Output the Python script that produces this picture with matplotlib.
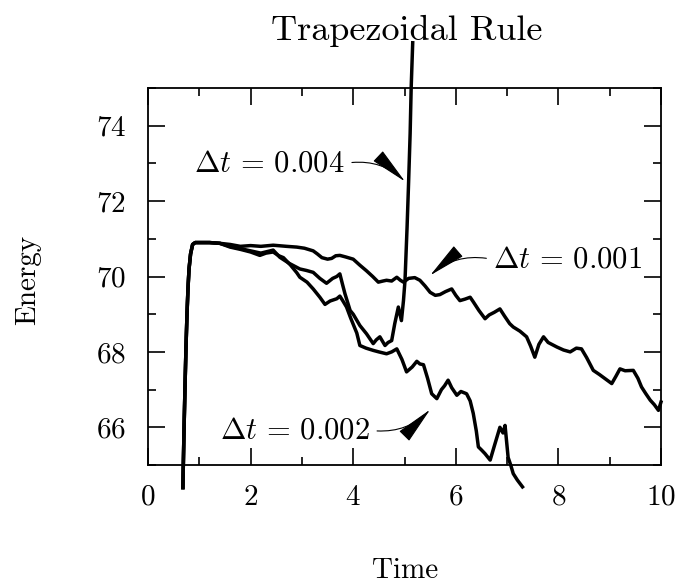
import numpy as np
import matplotlib.pyplot as plt

plt.rcParams['font.family'] = ['cmr10', 'DejaVu Serif']
plt.rcParams['mathtext.fontset'] = 'cm'
plt.rcParams['axes.formatter.use_mathtext'] = True

# common start-up transient
t_start = [0.68, 0.70, 0.72, 0.74, 0.76, 0.78, 0.80, 0.83, 0.87, 0.92, 1.0, 1.2, 1.4]
e_start = [64.4, 65.8, 67.0, 68.1, 69.0, 69.7, 70.2, 70.6, 70.85, 70.9, 70.9, 70.9, 70.88]

# dt = 0.001
t_001 = [1.6, 1.8, 2.0, 2.2, 2.44, 2.7, 2.9, 3.05, 3.22, 3.3, 3.39, 3.5, 3.58, 3.66,
         3.74, 3.85, 4.0, 4.13, 4.26, 4.38, 4.49, 4.58, 4.65, 4.75, 4.85, 4.92, 4.98,
         5.08, 5.2, 5.3, 5.4, 5.5, 5.6, 5.69, 5.8, 5.92, 6.0, 6.08, 6.18, 6.28, 6.34,
         6.45, 6.57, 6.65, 6.75, 6.86, 6.95, 7.05, 7.12, 7.25, 7.38, 7.46, 7.54, 7.62,
         7.71, 7.8, 7.97, 8.1, 8.23, 8.35, 8.45, 8.55, 8.68, 8.8, 8.9, 9.04, 9.12, 9.2,
         9.3, 9.46, 9.55, 9.62, 9.7, 9.79, 9.87, 9.95, 10.0]
e_001 = [70.85, 70.8, 70.82, 70.8, 70.83, 70.8, 70.78, 70.75, 70.68, 70.6, 70.5, 70.46,
         70.48, 70.55, 70.56, 70.52, 70.46, 70.3, 70.15, 70.0, 69.85, 69.88, 69.9, 69.88,
         69.98, 69.9, 69.85, 69.95, 69.97, 69.9, 69.75, 69.58, 69.5, 69.52, 69.6, 69.67,
         69.5, 69.36, 69.4, 69.45, 69.33, 69.1, 68.88, 68.98, 69.05, 69.14, 68.95, 68.75,
         68.66, 68.55, 68.4, 68.15, 67.86, 68.2, 68.4, 68.25, 68.13, 68.05, 68.0, 68.1,
         68.08, 67.85, 67.51, 67.4, 67.3, 67.16, 67.35, 67.55, 67.5, 67.51, 67.3, 67.07,
         66.9, 66.72, 66.6, 66.45, 66.67]

# dt = 0.002
t_002 = [1.6, 1.8, 2.0, 2.18, 2.3, 2.44, 2.55, 2.64, 2.78, 2.9, 2.96, 3.1, 3.22, 3.35,
         3.45, 3.55, 3.68, 3.74, 3.8, 3.87, 3.95, 4.07, 4.13, 4.25, 4.39, 4.5, 4.65, 4.75,
         4.85, 4.95, 5.04, 5.15, 5.24, 5.3, 5.37, 5.45, 5.53, 5.63, 5.72, 5.78, 5.85, 5.92,
         6.02, 6.1, 6.21, 6.28, 6.34, 6.4, 6.44, 6.5, 6.57, 6.67, 6.75, 6.86, 6.92, 6.96,
         7.02, 7.07, 7.12, 7.2, 7.3]
e_002 = [70.78, 70.72, 70.65, 70.56, 70.62, 70.65, 70.55, 70.5, 70.3, 70.1, 69.98, 69.85,
         69.67, 69.45, 69.26, 69.35, 69.41, 69.48, 69.35, 69.19, 68.9, 68.5, 68.17, 68.1,
         68.04, 68.0, 67.95, 68.0, 68.08, 67.8, 67.47, 67.6, 67.75, 67.68, 67.66, 67.3,
         66.89, 66.76, 67.0, 67.1, 67.25, 67.05, 66.85, 66.95, 66.89, 66.7, 66.37, 65.9,
         65.48, 65.4, 65.3, 65.13, 65.5, 66.0, 65.85, 66.05, 65.2, 65.0, 64.77, 64.6, 64.42]

# dt = 0.004
t_004 = [1.6, 1.8, 2.0, 2.2, 2.44, 2.57, 2.75, 2.96, 3.09, 3.22, 3.35, 3.48, 3.6, 3.68,
         3.74, 3.79, 3.84, 3.94, 4.0, 4.13, 4.26, 4.39, 4.45, 4.52, 4.62, 4.68, 4.75, 4.81,
         4.88, 4.94, 4.98, 5.01, 5.05, 5.08, 5.11, 5.13, 5.16]
e_004 = [70.8, 70.74, 70.68, 70.62, 70.7, 70.51, 70.35, 70.2, 70.16, 70.11, 69.95, 69.82,
         69.95, 70.0, 70.07, 69.8, 69.54, 69.1, 69.0, 68.7, 68.48, 68.22, 68.32, 68.4,
         68.17, 68.25, 68.3, 68.75, 69.19, 68.83, 69.36, 69.9, 71.3, 72.5, 73.8, 75.0, 76.2]

fig = plt.figure(figsize=(6.95, 5.86), dpi=100)
ax = fig.add_axes([148 / 695, 1 - 465 / 586, 513 / 695, 377 / 586])

for t, e in [(t_001, e_001), (t_002, e_002), (t_004, e_004)]:
    ax.plot(t_start + t, e_start + e, color='black', lw=2.5, clip_on=False)

ax.set_xlim(0, 10)
ax.set_ylim(65, 75)
ax.set_xticks(np.arange(0, 11, 2))
ax.set_xticks(np.arange(0, 11, 1), minor=True)
ax.set_yticks(np.arange(66, 75, 2))
ax.set_yticks(np.arange(65, 76, 1), minor=True)
ax.tick_params(which='both', direction='in', top=True, right=True, width=1.2,
               labelsize=21)
ax.tick_params(which='major', length=12)
ax.tick_params(which='minor', length=6)
ax.tick_params(axis='x', pad=14)
ax.tick_params(axis='y', pad=16)
for s in ax.spines.values():
    s.set_linewidth(1.3)

arrow = '-|>,head_length=1.2,head_width=0.22'
ax.annotate(r'$\Delta t\, =\, 0.004$', xy=(5.01, 72.52), xytext=(3.84, 73.0),
            ha='right', va='center', fontsize=22,
            arrowprops=dict(arrowstyle=arrow, connectionstyle='arc3,rad=-0.25',
                            color='black', lw=0.8, relpos=(1, 0.5),
                            shrinkA=3, shrinkB=0, mutation_scale=20))
ax.annotate(r'$\Delta t\, =\, 0.001$', xy=(5.5, 70.03), xytext=(6.73, 70.45),
            ha='left', va='center', fontsize=22,
            arrowprops=dict(arrowstyle=arrow, connectionstyle='arc3,rad=0.25',
                            color='black', lw=0.8, relpos=(0, 0.5),
                            shrinkA=3, shrinkB=0, mutation_scale=20))
ax.annotate(r'$\Delta t\, =\, 0.002$', xy=(5.5, 66.47), xytext=(4.33, 65.92),
            ha='right', va='center', fontsize=22,
            arrowprops=dict(arrowstyle=arrow, connectionstyle='arc3,rad=0.25',
                            color='black', lw=0.8, relpos=(1, 0.5),
                            shrinkA=3, shrinkB=0, mutation_scale=20))

fig.text(407 / 695, 1 - 40 / 586, 'Trapezoidal Rule', ha='center', va='baseline',
         fontsize=26)
fig.text(405 / 695, 1 - 571 / 586, 'Time', ha='center', va='center', fontsize=21)
fig.text(28 / 695, 1 - 280 / 586, 'Energy', ha='center', va='center', fontsize=21,
         rotation=90)

fig.savefig('out.png', dpi=100)
